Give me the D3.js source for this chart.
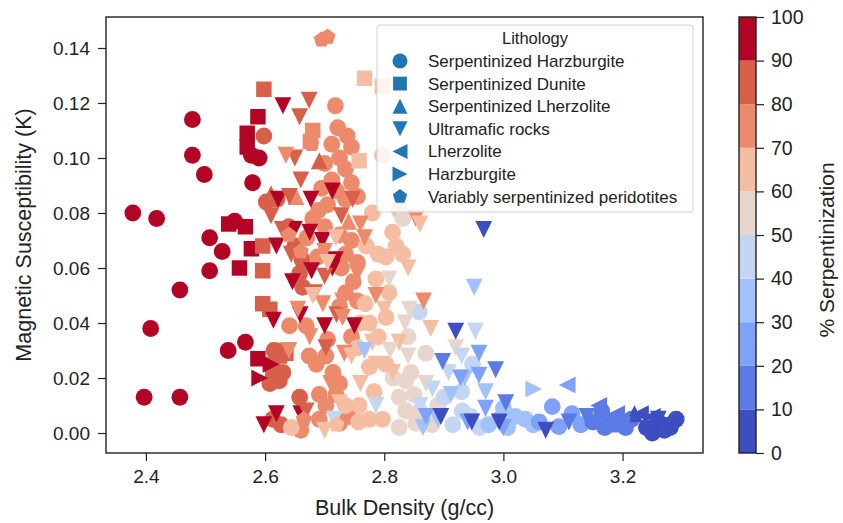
<!DOCTYPE html>
<html>
<head>
<meta charset="utf-8">
<script src="https://cdn.jsdelivr.net/npm/d3@7"></script>
<style>
  body { margin: 0; background: #fff; }
  svg { font-family: "Liberation Sans", Arial, sans-serif; }
</style>
</head>
<body>
<svg id="chart" width="843" height="523"></svg>
<script>
// [bulk density, susceptibility, % serpentinization]
const serpHarzburgite = [
  [2.378,0.080,95],[2.418,0.078,95],[2.478,0.114,95],[2.478,0.101,95],[2.498,0.094,95],[2.579,0.091,95],
  [2.577,0.101,95],[2.590,0.100,95],[2.507,0.071,95],[2.528,0.066,95],[2.507,0.059,95],[2.457,0.052,95],
  [2.408,0.038,95],[2.538,0.030,95],[2.567,0.033,95],[2.397,0.013,95],[2.457,0.013,95],[2.549,0.077,95],
  [2.598,0.108,85],[2.602,0.084,85],[2.620,0.085,85],[2.658,0.058,85],[2.663,0.053,85],[2.608,0.018,85],
  [2.624,0.019,85],[2.658,0.013,85],[2.613,0.005,85],[2.627,0.003,85],[2.640,0.075,85],[2.650,0.068,85],
  [2.615,0.030,85],[2.630,0.022,85],[2.662,0.063,85],
  [2.718,0.119,75],[2.722,0.111,75],[2.738,0.108,75],[2.712,0.105,75],[2.745,0.104,75],[2.725,0.100,75],
  [2.700,0.098,75],[2.735,0.096,75],[2.712,0.092,75],[2.745,0.091,75],[2.720,0.088,75],[2.695,0.089,75],
  [2.735,0.085,75],[2.705,0.083,75],[2.755,0.086,75],[2.690,0.081,75],[2.725,0.072,75],[2.745,0.070,75],
  [2.735,0.065,75],[2.755,0.062,75],[2.728,0.060,75],[2.748,0.055,75],[2.735,0.051,75],[2.755,0.048,75],
  [2.725,0.046,75],[2.688,0.064,75],[2.700,0.075,75],[2.680,0.078,75],[2.670,0.071,75],[2.669,0.039,75],
  [2.641,0.039,75],[2.674,0.028,75],[2.686,0.025,75],[2.714,0.022,75],[2.702,0.028,75],[2.691,0.014,75],
  [2.719,0.014,75],[2.702,0.010,75],[2.691,0.005,75],[2.725,0.0035,75],[2.741,0.006,75],[2.660,0.001,75],
  [2.705,0.034,75],[2.745,0.035,75],[2.725,0.018,75],
  [2.797,0.101,65],[2.814,0.073,65],[2.820,0.068,65],[2.803,0.064,65],[2.831,0.065,65],[2.786,0.056,65],
  [2.808,0.051,65],[2.803,0.042,65],[2.755,0.031,65],[2.775,0.024,65],[2.803,0.025,65],[2.758,0.010,65],
  [2.775,0.005,65],[2.797,0.005,65],[2.757,0.004,65],[2.644,0.002,65],[2.790,0.065,65],[2.770,0.068,65],
  [2.780,0.080,65],[2.825,0.081,65],[2.775,0.040,65],[2.790,0.035,65],[2.760,0.040,65],[2.783,0.015,65],
  [2.735,0.010,65],[2.768,0.047,65],
  [2.831,0.078,55],[2.836,0.019,55],[2.850,0.014,55],[2.825,0.013,55],[2.836,0.008,55],[2.853,0.0035,55],
  [2.825,0.002,55],[2.870,0.029,55],[2.845,0.022,55],[2.860,0.008,55],[2.880,0.003,55],[2.890,0.010,55],
  [2.840,0.035,55],[2.815,0.020,55],
  [2.859,0.044,45],[2.948,0.025,45],[2.931,0.008,45],[2.945,0.006,45],[2.915,0.003,45],[2.900,0.013,45],
  [2.960,0.002,45],[2.930,0.015,45],
  [2.993,0.005,35],[3.020,0.006,35],[3.037,0.005,35],[3.050,0.003,35],[3.007,0.002,35],[2.975,0.003,35],
  [3.000,0.009,35],
  [3.082,0.0096,25],[3.115,0.007,25],[3.093,0.0023,25],[3.060,0.004,25],[3.130,0.003,25],
  [3.150,0.004,15],[3.170,0.002,15],[3.190,0.005,15],[3.205,0.002,15],[3.165,0.008,15],[3.215,0.005,15],
  [3.240,0.002,5],[3.260,0.004,5],[3.280,0.002,5],[3.290,0.005,5],[3.250,0.000,5],[3.270,0.001,5]
];

const serpDunite = [
  [2.588,0.115,95],[2.570,0.109,95],[2.570,0.104,95],[2.539,0.076,95],[2.567,0.075,95],[2.577,0.067,95],
  [2.557,0.060,95],[2.588,0.027,95],
  [2.598,0.125,85],[2.596,0.068,85],[2.596,0.059,85],[2.596,0.047,85],[2.608,0.045,85],[2.624,0.028,85],
  [2.613,0.025,85],[2.620,0.030,85],[2.635,0.029,85],[2.613,0.021,85],
  [2.680,0.110,75],[2.676,0.106,75],
  [2.767,0.129,65],[2.758,0.099,65],[2.797,0.126,65],
  [3.180,0.003,15],[3.270,0.003,5]
];

const serpLherzolite = [
  [2.610,0.087,85],[2.652,0.086,75],[2.691,0.099,85],[2.740,0.077,75],[3.170,0.008,15],[3.220,0.007,5]
];

const ultramafic = [
  [2.630,0.119,95],[2.622,0.085,95],[2.677,0.085,95],[2.713,0.088,95],[2.649,0.074,95],[2.675,0.073,95],
  [2.696,0.070,95],[2.619,0.068,95],[2.718,0.063,95],[2.646,0.055,95],[2.678,0.059,95],[2.713,0.060,95],
  [2.614,0.041,95],[2.659,0.043,95],[2.700,0.039,95],[2.750,0.039,95],[2.619,0.007,95],[2.660,0.007,95],
  [2.598,0.003,95],
  [2.674,0.121,85],[2.658,0.115,85],[2.641,0.086,85],[2.747,0.085,85],[2.629,0.074,85],[2.644,0.065,85],
  [2.683,0.051,85],[2.702,0.031,85],[2.669,0.008,85],[2.610,0.079,85],[2.700,0.057,85],[2.720,0.043,85],
  [2.660,0.092,85],[2.728,0.079,85],[2.650,0.100,85],
  [2.635,0.101,75],[2.697,0.047,75],[2.730,0.048,75],[2.730,0.042,75],[2.733,0.029,75],[2.767,0.071,75],
  [2.786,0.050,75],[2.866,0.048,75],[2.853,0.078,75],[2.760,0.076,75],[2.700,0.066,75],[2.655,0.045,75],
  [2.675,0.035,75],[2.710,0.018,75],[2.640,0.030,75],[2.755,0.058,75],
  [2.719,0.071,65],[2.780,0.033,65],[2.786,0.025,65],[2.814,0.022,65],[2.825,0.033,65],[2.725,0.011,65],
  [2.878,0.038,65],[2.680,0.050,65],[2.705,0.062,65],[2.840,0.060,65],[2.800,0.045,65],[2.760,0.018,65],
  [2.745,0.028,65],[2.700,0.001,65],[2.860,0.076,65],
  [2.808,0.056,55],[2.842,0.045,55],[2.920,0.031,55],[2.810,0.030,55],[2.840,0.028,55],[2.870,0.018,55],
  [2.835,0.040,55],
  [2.953,0.037,45],[2.786,0.010,45],[2.716,0.005,45],[2.881,0.016,45],[2.908,0.022,45],[2.930,0.028,45],
  [2.860,0.010,45],
  [2.767,0.030,35],[2.951,0.053,35],[2.912,0.014,35],[2.970,0.015,35],[2.935,0.020,35],[2.890,0.005,35],
  [2.865,0.002,35],
  [2.928,0.020,25],[2.959,0.021,25],[2.959,0.029,25],[2.970,0.009,25],[2.870,0.006,25],[2.940,0.004,25],
  [3.000,0.002,25],
  [2.987,0.023,15],[3.004,0.011,15],[2.898,0.026,15],[3.110,0.004,15],[3.140,0.006,15],[3.200,0.003,15],
  [2.920,0.037,5],[2.967,0.074,5],[3.071,0.001,5],[2.947,0.004,5],[2.993,0.004,5],[3.260,0.005,5],
  [3.290,0.003,5],[2.895,0.006,5]
];

const lherzolite = [
  [3.107,0.0175,25],[3.160,0.010,15],[3.230,0.007,5],[3.250,0.006,5],[3.190,0.007,15]
];

const harzburgite = [
  [2.610,0.025,95],[2.591,0.020,95],[3.051,0.016,35]
];

const variablySerp = [
  [2.695,0.143,75],[2.705,0.144,75],[2.678,0.105,75],[2.660,0.066,75],[2.665,0.005,75],[2.720,0.003,65],
  [2.640,0.072,75],[3.200,0.004,15],[3.270,0.002,5]
];

const lithologies = [
  "Serpentinized Harzburgite", "Serpentinized Dunite", "Serpentinized Lherzolite",
  "Ultramafic rocks", "Lherzolite", "Harzburgite", "Variably serpentinized peridotites"
];
const lithShapes = ["circle", "square", "up", "down", "left", "right", "pentagon"];
const lithData = [serpHarzburgite, serpDunite, serpLherzolite, ultramafic, lherzolite, harzburgite, variablySerp];

const xTicks = [2.4, 2.6, 2.8, 3.0, 3.2];
const yTicks = [0, 0.02, 0.04, 0.06, 0.08, 0.10, 0.12, 0.14];
const cbTicks = [0, 10, 20, 30, 40, 50, 60, 70, 80, 90, 100];
// coolwarm, 10 bins
const binColors = ["#3c4ec2", "#5b7ae5", "#7ea1fa", "#a2c1ff", "#c5d6f2",
                   "#e8d6cc", "#f5bea2", "#ee8a6c", "#d8604b", "#b40426"];

const svg = d3.select("#chart");
const plotL = 106, plotR = 703, plotT = 17, plotB = 453;

const x = d3.scaleLinear().domain([2.333, 3.335]).range([plotL, plotR]);
const y = d3.scaleLinear().domain([-0.00727, 0.15127]).range([plotB, plotT]);
const color = d3.scaleQuantize().domain([0, 100]).range(binColors);

function shapePath(type, s) {
  if (type === "circle") {
    return `M${s},0A${s},${s} 0 1,1 ${-s},0A${s},${s} 0 1,1 ${s},0Z`;
  }
  if (type === "square") {
    const h = s * 0.92;
    return `M${-h},${-h}L${h},${-h}L${h},${h}L${-h},${h}Z`;
  }
  if (type === "up") return `M0,${-s}L${s},${s}L${-s},${s}Z`;
  if (type === "down") return `M0,${s}L${s},${-s}L${-s},${-s}Z`;
  if (type === "left") return `M${-s},0L${s},${-s}L${s},${s}Z`;
  if (type === "right") return `M${s},0L${-s},${-s}L${-s},${s}Z`;
  // pentagon
  const pts = d3.range(5).map(i => {
    const a = -Math.PI / 2 + i * 2 * Math.PI / 5;
    return [s * Math.cos(a), s * Math.sin(a)];
  });
  return "M" + pts.join("L") + "Z";
}

svg.append("defs").append("clipPath").attr("id", "plot-clip")
  .append("rect").attr("x", plotL).attr("y", plotT)
  .attr("width", plotR - plotL).attr("height", plotB - plotT);

// points
const pts = svg.append("g").attr("clip-path", "url(#plot-clip)");
lithData.forEach((data, i) => {
  pts.append("g")
    .selectAll("path")
    .data(data)
    .enter().append("path")
    .attr("transform", d => `translate(${x(d[0])},${y(d[1])})`)
    .attr("d", shapePath(lithShapes[i], 8.4))
    .style("fill", d => color(d[2]));
});

// axes
const xAxis = svg.append("g")
  .attr("transform", `translate(0,${plotB})`)
  .call(d3.axisBottom(x).tickValues(xTicks).tickFormat(d3.format(".1f")).tickSize(8).tickPadding(9));
const yAxis = svg.append("g")
  .attr("transform", `translate(${plotL},0)`)
  .call(d3.axisLeft(y).tickValues(yTicks).tickFormat(d3.format(".2f")).tickSize(8).tickPadding(8));
[xAxis, yAxis].forEach(a => {
  a.select(".domain").remove();
  a.selectAll(".tick line").style("stroke", "#222").style("stroke-width", 1.2);
  a.selectAll(".tick text").style("font-size", "19px").style("fill", "#222")
    .style("font-family", '"Liberation Sans", Arial, sans-serif');
});

svg.append("rect")
  .attr("x", plotL).attr("y", plotT)
  .attr("width", plotR - plotL).attr("height", plotB - plotT)
  .style("fill", "none").style("stroke", "#222").style("stroke-width", 1.4);

svg.append("text")
  .attr("x", (plotL + plotR) / 2).attr("y", 515)
  .attr("text-anchor", "middle")
  .style("font-size", "21.5px").style("fill", "#222")
  .text("Bulk Density (g/cc)");

svg.append("text")
  .attr("transform", `translate(31,${(plotT + plotB) / 2}) rotate(-90)`)
  .attr("text-anchor", "middle")
  .style("font-size", "21.5px").style("fill", "#222")
  .text("Magnetic Susceptibility (K)");

// legend
const lg = svg.append("g");
lg.append("rect")
  .attr("x", 377).attr("y", 25).attr("width", 316).attr("height", 187).attr("rx", 3)
  .style("fill", "#fff").style("fill-opacity", 0.8)
  .style("stroke", "#d0d0d0").style("stroke-width", 1);
lg.append("text")
  .attr("x", 535).attr("y", 44)
  .attr("text-anchor", "middle")
  .style("font-size", "16.5px").style("fill", "#222")
  .text("Lithology");
lithologies.forEach((name, i) => {
  const ly = 61 + i * 22.6;
  lg.append("path")
    .attr("transform", `translate(400,${ly})`)
    .attr("d", shapePath(lithShapes[i], 7.5))
    .style("fill", "#1f77b4");
  lg.append("text")
    .attr("x", 428).attr("y", ly + 6)
    .style("font-size", "17px").style("fill", "#222")
    .text(name);
});

// colorbar
const cbX = 739, cbW = 17;
const cbScale = d3.scaleLinear().domain([0, 100]).range([453, 17]);
const cb = svg.append("g");
cb.selectAll("rect.bin")
  .data(binColors)
  .enter().append("rect")
  .attr("class", "bin")
  .attr("x", cbX).attr("width", cbW)
  .attr("y", (d, i) => cbScale((i + 1) * 10))
  .attr("height", (d, i) => cbScale(i * 10) - cbScale((i + 1) * 10))
  .style("fill", d => d);
cb.append("rect")
  .attr("x", cbX).attr("y", cbScale(100)).attr("width", cbW).attr("height", cbScale(0) - cbScale(100))
  .style("fill", "none").style("stroke", "#222").style("stroke-width", 1.4);
const cbAxis = cb.append("g")
  .attr("transform", `translate(${cbX + cbW},0)`)
  .call(d3.axisRight(cbScale).tickValues(cbTicks).tickFormat(d3.format("d")).tickSize(8).tickPadding(7));
cbAxis.select(".domain").remove();
cbAxis.selectAll(".tick line").style("stroke", "#222").style("stroke-width", 1.2);
cbAxis.selectAll(".tick text").style("font-size", "19.5px").style("fill", "#222")
  .style("font-family", '"Liberation Sans", Arial, sans-serif');

svg.append("text")
  .attr("transform", `translate(834,250) rotate(-90)`)
  .attr("text-anchor", "middle")
  .style("font-size", "21px").style("fill", "#222")
  .text("% Serpentinization");
</script>
</body>
</html>
